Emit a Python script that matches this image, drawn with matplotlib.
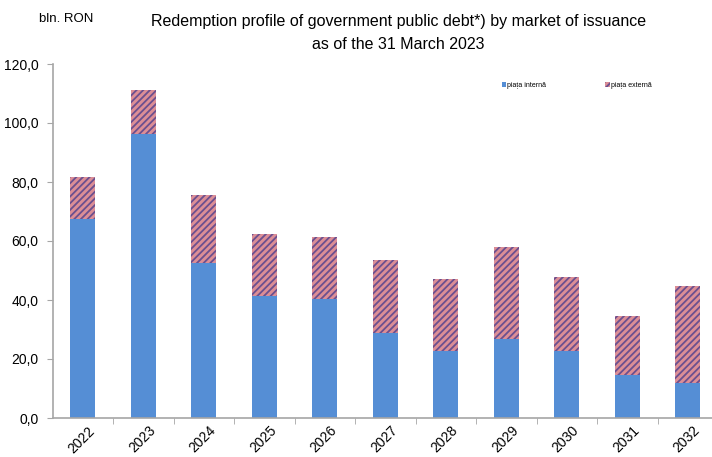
import matplotlib
matplotlib.use('Agg')
import matplotlib.pyplot as plt
from matplotlib.ticker import FuncFormatter
import numpy as np

plt.rcParams['font.family'] = ['Liberation Sans', 'DejaVu Sans']
plt.rcParams['hatch.linewidth'] = 1.3
plt.rcParams['hatch.color'] = '#6b4f8f'

# redemptions, bln. RON
years = ['2022', '2023', '2024', '2025', '2026', '2027', '2028', '2029', '2030', '2031', '2032']
internal = [67.3, 96.3, 52.4, 41.2, 40.2, 28.7, 22.6, 26.7, 22.6, 14.5, 11.8]
external = [14.5, 14.9, 23.3, 21.3, 21.3, 24.7, 24.4, 31.1, 25.1, 20.0, 32.8]

fig = plt.figure(figsize=(7.12, 4.57), dpi=100)
ax = fig.add_axes([52.5 / 712, 1 - 418 / 457, 659.5 / 712, 354 / 457])

x = np.arange(len(years))
w = 0.41
ax.bar(x, internal, w, color='#558ed5', label='piața internă', zorder=2)
ax.bar(x, external, w, bottom=internal, color='#dc8e96', hatch='/////',
       edgecolor='#6b4f8f', linewidth=0, label='piața externă', zorder=2)

ax.set_xlim(-0.5, 10.4)
ax.set_ylim(0, 120)
ax.set_yticks(np.arange(0, 121, 20))
ax.yaxis.set_major_formatter(FuncFormatter(lambda v, p: ('%.1f' % v).replace('.', ',')))
ax.set_xticks(x + 0.08)
ax.set_xticklabels(years, rotation=45, ha='right', rotation_mode='anchor')
ax.set_xticks(np.arange(0.5, 10.5, 1), minor=True)

for s in ['top', 'right']:
  ax.spines[s].set_visible(False)
for s in ['left', 'bottom']:
  ax.spines[s].set_color('#a6a6a6')
  ax.spines[s].set_linewidth(1.2)
ax.tick_params(axis='y', direction='out', length=4, color='#a6a6a6', labelsize=10, pad=6)
ax.tick_params(axis='x', which='major', length=0, labelsize=10, pad=4)
ax.tick_params(axis='x', which='minor', direction='out', length=4, color='#a6a6a6')

ax.legend(loc='center', bbox_to_anchor=(0.795, 0.94), ncol=2, frameon=False,
          fontsize=5, handlelength=0.7, handleheight=0.7, handletextpad=0.15,
          columnspacing=8.5)

fig.text(0.56, 0.953, 'Redemption profile of government public debt*) by market of issuance',
         ha='center', va='center', fontsize=11.5)
fig.text(0.56, 0.903, 'as of the 31 March 2023', ha='center', va='center', fontsize=11.5)
fig.text(0.055, 0.958, 'bln. RON', ha='left', va='center', fontsize=9.5)

fig.savefig('out.png', dpi=100)
